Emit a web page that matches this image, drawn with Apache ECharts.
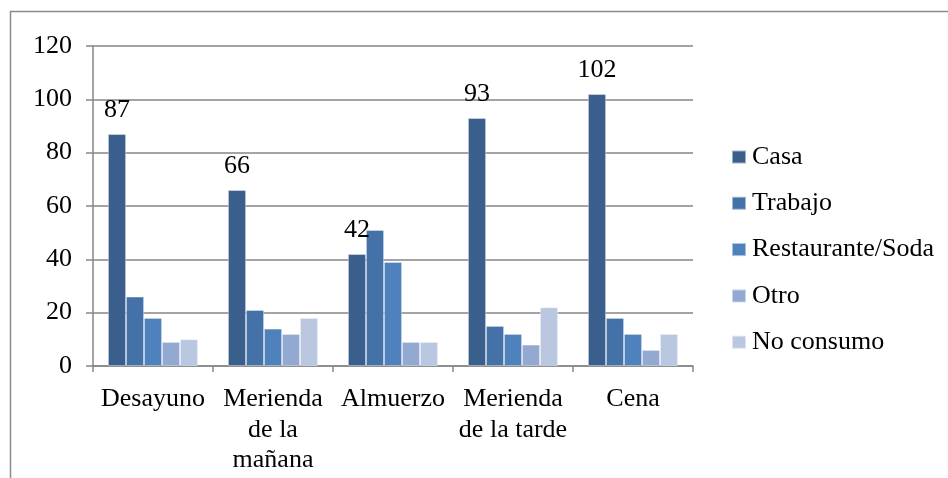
<!DOCTYPE html>
<html><head><meta charset="utf-8">
<script src="https://cdn.jsdelivr.net/npm/echarts@6/dist/echarts.min.js"></script>
<style>html,body{margin:0;padding:0;background:#fff}#c{width:948px;height:478px}</style>
</head><body><div id="c"></div>
<script>
const categories = ['Desayuno', 'Merienda\nde la\nmañana', 'Almuerzo', 'Merienda\nde la tarde', 'Cena'];
const seriesNames = ['Casa', 'Trabajo', 'Restaurante/Soda', 'Otro', 'No consumo'];
const casa = [87, 66, 42, 93, 102];
const trabajo = [26, 21, 51, 15, 18];
const restaurante = [18, 14, 39, 12, 12];
const otro = [9, 12, 9, 8, 6];
const noConsumo = [10, 18, 9, 22, 12];
const yTicks = [0, 20, 40, 60, 80, 100, 120];

const colors = ['#3A5F8D', '#4472A8', '#4F81BD', '#94A9D1', '#BAC7E1'];
const values = [casa, trabajo, restaurante, otro, noConsumo];
const font = 'Liberation Serif, Times New Roman, serif';

const chart = echarts.init(document.getElementById('c'), null, {renderer: 'canvas'});
chart.setOption({
  animation: false,
  backgroundColor: '#fff',
  textStyle: {fontFamily: font},
  graphic: [{
    type: 'rect', silent: true, z: -10,
    shape: {x: 10.5, y: 11.5, width: 960, height: 520},
    style: {fill: 'none', stroke: '#8a8a8a', lineWidth: 1.5}
  }],
  grid: {left: 93, top: 46, width: 600, height: 320, containLabel: false},
  legend: {
    orient: 'vertical', left: 731, top: 144, padding: 0,
    itemWidth: 14, itemHeight: 13, itemGap: 20.3,
    icon: 'rect',
    textStyle: {fontFamily: font, fontSize: 26, color: '#000', padding: [0, 0, 0, 1]},
    data: seriesNames
  },
  xAxis: {
    type: 'category', data: categories,
    axisLine: {lineStyle: {color: '#868686', width: 1.5}},
    axisTick: {show: true, length: 6, lineStyle: {color: '#868686', width: 1.5}},
    axisLabel: {fontFamily: font, fontSize: 26, color: '#000', margin: 18, lineHeight: 30.5, interval: 0}
  },
  yAxis: {
    type: 'value', min: yTicks[0], max: yTicks[yTicks.length - 1], interval: 20,
    axisLine: {show: true, lineStyle: {color: '#868686', width: 1.5}},
    axisTick: {show: true, inside: false, length: 7, lineStyle: {color: '#868686', width: 1.5}},
    splitLine: {show: true, lineStyle: {color: '#868686', width: 1.5}},
    axisLabel: {fontFamily: font, fontSize: 26, color: '#000', margin: 21}
  },
  series: seriesNames.map((n, i) => ({
    name: n, type: 'bar', data: values[i],
    barWidth: 18, barGap: '0%',
    itemStyle: {color: colors[i], borderColor: 'rgba(255,255,255,0.5)', borderWidth: 0.8},
    label: i === 0 ? {show: true, position: 'top', distance: 11, fontFamily: font, fontSize: 26, color: '#000'} : {show: false}
  }))
});
</script></body></html>
